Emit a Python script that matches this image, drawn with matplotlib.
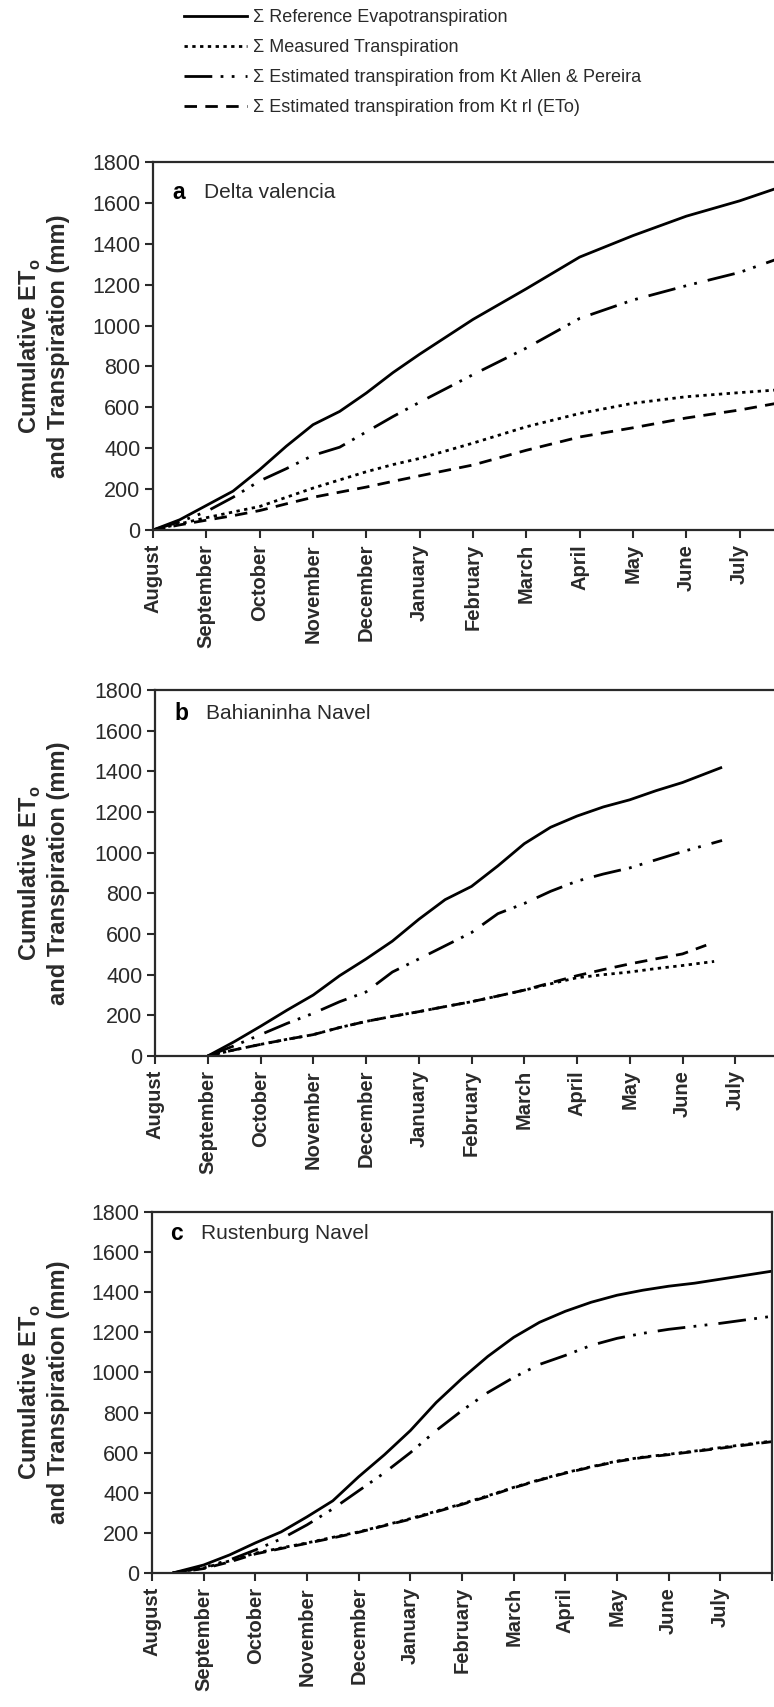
import numpy as np
import matplotlib.pyplot as plt
from matplotlib.lines import Line2D

plt.rcParams['font.family'] = ['Liberation Sans', 'DejaVu Sans']
plt.rcParams['mathtext.fontset'] = 'custom'
plt.rcParams['mathtext.rm'] = 'Liberation Sans'
plt.rcParams['mathtext.bf'] = 'Liberation Sans:bold'

months = ['August', 'September', 'October', 'November', 'December', 'January',
          'February', 'March', 'April', 'May', 'June', 'July']

series_names = ['\u03a3 Reference Evapotranspiration',
                '\u03a3 Measured Transpiration',
                '\u03a3 Estimated transpiration from Kt Allen & Pereira',
                '\u03a3 Estimated transpiration from Kt rl (ETo)']

# panel a - Delta valencia (x = months since start of August)
a_month = [0, 0.5, 1, 1.5, 2, 2.5, 3, 3.5, 4, 4.5, 5, 6, 7, 8, 9, 10, 11, 11.7]
a_ref = [0, 50, 120, 190, 295, 410, 515, 580, 670, 770, 860, 1030, 1180, 1335, 1440, 1535, 1610, 1672]
a_meas = [0, 30, 60, 88, 115, 160, 205, 245, 285, 320, 350, 425, 505, 570, 620, 652, 672, 685]
a_allen = [0, 40, 90, 160, 240, 300, 365, 405, 480, 555, 625, 760, 890, 1035, 1125, 1195, 1260, 1325]
a_rl = [0, 25, 48, 70, 95, 128, 160, 185, 210, 238, 265, 318, 390, 455, 500, 548, 587, 620]

# panel b - Bahianinha Navel
b_month = [1, 1.5, 2, 2.5, 3, 3.5, 4, 4.5, 5, 5.5, 6, 6.5, 7, 7.5, 8, 8.5, 9, 9.5, 10, 10.75]
b_ref = [0, 70, 146, 225, 300, 395, 477, 565, 672, 769, 834, 935, 1044, 1125, 1180, 1225, 1260, 1305, 1345, 1420]
b_allen = [0, 50, 105, 160, 210, 267, 315, 413, 477, 542, 607, 700, 750, 810, 860, 895, 925, 965, 1005, 1060]
b_month_meas = [1, 1.5, 2, 2.5, 3, 3.5, 4, 4.5, 5, 5.5, 6, 6.5, 7, 7.5, 8, 8.5, 9, 9.5, 10, 10.6]
b_meas = [0, 30, 57, 82, 105, 140, 170, 195, 218, 243, 267, 295, 324, 355, 385, 400, 413, 430, 445, 465]
b_month_rl = [1, 1.5, 2, 2.5, 3, 3.5, 4, 4.5, 5, 5.5, 6, 6.5, 7, 7.5, 8, 8.5, 9, 9.5, 10, 10.45]
b_rl = [0, 30, 57, 82, 105, 140, 170, 195, 218, 243, 267, 295, 324, 360, 395, 425, 453, 478, 502, 545]

# panel c - Rustenburg Navel
c_month = [0.4, 1, 1.5, 2, 2.5, 3, 3.5, 4, 4.5, 5, 5.5, 6, 6.5, 7, 7.5, 8, 8.5, 9, 9.5, 10, 10.5, 11, 12]
c_ref = [0, 40, 90, 150, 205, 280, 360, 480, 590, 710, 850, 970, 1080, 1175, 1250, 1305, 1350, 1385, 1410, 1430, 1445, 1465, 1505]
c_allen = [0, 28, 65, 115, 170, 240, 320, 410, 500, 600, 710, 810, 900, 975, 1040, 1085, 1135, 1170, 1195, 1215, 1230, 1245, 1280]
c_meas = [0, 25, 60, 99, 125, 150, 178, 205, 238, 271, 308, 345, 385, 427, 465, 500, 530, 558, 578, 592, 608, 625, 658]
c_rl = [0, 22, 55, 95, 122, 148, 175, 203, 236, 268, 305, 342, 382, 425, 463, 498, 528, 556, 576, 590, 606, 622, 655]

panels = [
    ('a', 'Delta valencia', [(a_month, a_ref), (a_month, a_meas), (a_month, a_allen), (a_month, a_rl)]),
    ('b', 'Bahianinha Navel', [(b_month, b_ref), (b_month_meas, b_meas), (b_month, b_allen), (b_month_rl, b_rl)]),
    ('c', 'Rustenburg Navel', [(c_month, c_ref), (c_month, c_meas), (c_month, c_allen), (c_month, c_rl)]),
]

# line styles: solid, dotted, dash-dot-dot, dashed
styles = [dict(ls='-'),
          dict(ls=(0, (1.2, 1.6))),
          dict(ls=(0, (10, 3, 1, 3, 1, 4))),
          dict(ls=(0, (4.5, 3)))]

W, H = 774, 1707
# axes boxes in pixels: left, top, right (x=12 months), bottom
boxes = [(153, 162, 793, 530), (155, 690, 788, 1056), (152, 1212, 772, 1573)]
title_pos = [(19, 0.918), (19, 0.935), (18, 0.94)]

fig = plt.figure(figsize=(W / 100, H / 100), dpi=100)
dark = '#2a2a2a'

axes = []
for (letter, name, data), (l, t, r, b), (tx, ty) in zip(panels, boxes, title_pos):
    ax = fig.add_axes([l / W, 1 - b / H, (r - l) / W, (b - t) / H])
    for (xm, yv), st in zip(data, styles):
        ax.plot(xm, yv, color='black', lw=2.0, solid_capstyle='butt', **st)
    ax.set_xlim(0, 12)
    ax.set_ylim(0, 1800)
    ax.set_xticks(range(13))
    ax.set_xticklabels(months + [''], rotation=90, fontsize=14.5, fontweight='bold', color=dark)
    ax.set_yticks(range(0, 1801, 200))
    ax.tick_params(axis='y', labelsize=15.5, colors=dark, length=6, width=1.5, pad=3)
    ax.tick_params(axis='x', colors=dark, length=6, width=1.5, pad=4)
    for s in ax.spines.values():
        s.set_linewidth(1.6)
        s.set_color(dark)
    ax.set_ylabel('Cumulative ET$_\\mathbf{o}$\nand Transpiration (mm)', fontsize=17,
                  fontweight='bold', color=dark, linespacing=1.2)
    ax.yaxis.set_label_coords(-(l - 70) / (r - l), 0.5)
    ax.text(tx / (r - l), ty, letter, transform=ax.transAxes, fontsize=16.5,
            fontweight='bold', va='center', ha='left', color='black')
    ax.text(tx / (r - l) + 0.05, ty, name, transform=ax.transAxes, fontsize=15,
            va='center', ha='left', color=dark)
    axes.append(ax)

handles = [Line2D([], [], color='black', lw=2.0, **st) for st in styles]
fig.legend(handles, series_names, loc='upper left', bbox_to_anchor=(184 / W, 1 - 9 / H),
           frameon=False, fontsize=13, handlelength=3.5, handletextpad=0.3,
           labelspacing=0.72, borderpad=0, borderaxespad=0, labelcolor=dark)

fig.savefig('out.png', dpi=100)
